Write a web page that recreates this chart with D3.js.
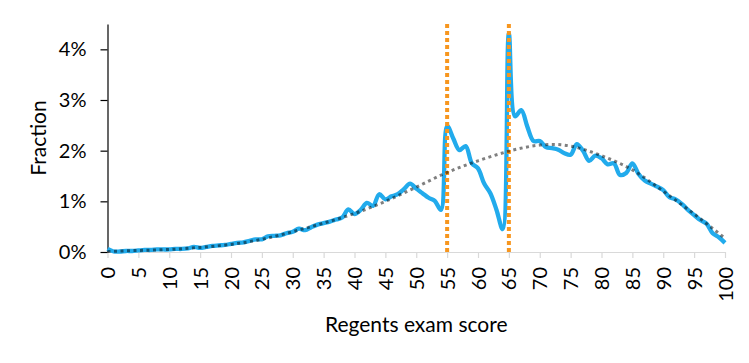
<!DOCTYPE html>
<html>
<head>
<meta charset="utf-8">
<script src="https://cdn.jsdelivr.net/npm/d3@7"></script>
<style>
  body { margin: 0; background: #fff; }
  text { font-family: Lato, "Open Sans", sans-serif; fill: #000; }
</style>
</head>
<body>
<div id="chart"></div>
<script>
// scores 0..100
var scores = d3.range(0, 101);

// observed share of students at each score (percent)
var observed = [0.06,0.01,0.01,0.02,0.02,0.03,0.04,0.04,0.05,0.05,
  0.05,0.06,0.06,0.07,0.10,0.08,0.10,0.12,0.13,0.14,
  0.16,0.18,0.19,0.22,0.25,0.25,0.31,0.32,0.33,0.37,
  0.40,0.46,0.43,0.49,0.54,0.57,0.60,0.64,0.68,0.84,
  0.75,0.83,0.97,0.91,1.14,1.04,1.10,1.14,1.24,1.35,
  1.25,1.16,1.07,1.01,0.83,2.49,2.24,2.01,2.09,1.75,
  1.65,1.35,1.16,0.83,0.45,4.31,2.68,2.80,2.47,2.19,
  2.19,2.07,2.05,2.02,1.95,1.92,2.13,2.00,1.80,1.90,
  1.85,1.73,1.75,1.52,1.56,1.75,1.54,1.41,1.35,1.29,
  1.22,1.08,1.04,0.95,0.83,0.73,0.63,0.56,0.37,0.29,
  0.18];

// smooth counterfactual fit, read every 5 points
var fitScores = [0,5,10,15,20,25,30,35,40,45,50,55,60,65,70,75,80,85,90,95,100];
var fitValues = [0.01,0.03,0.05,0.09,0.15,0.25,0.40,0.57,0.76,1.00,1.28,1.57,1.80,1.99,2.11,2.09,1.90,1.62,1.20,0.75,0.27];

// passing cutoffs
var cutoffs = [55, 65];

var yTicks = [0, 1, 2, 3, 4];
var xTicks = d3.range(0, 101, 5);

var w = 749, h = 363;
var padL = 107.5, padR = 725, padT = 24, padB = 252;

var svg = d3.select("#chart").append("svg")
  .attr("width", w)
  .attr("height", h)
  .style("background", "#FFFFFF");

var x = d3.scaleLinear().domain([0, 100]).range([padL, padR]);
var y = d3.scaleLinear().domain([0, 4.5]).range([padB, padT]);

// x axis
var xa = svg.append("g")
  .attr("transform", "translate(0," + padB + ")")
  .call(d3.axisBottom(x).tickValues(xTicks).tickSize(6).tickSizeOuter(0).tickFormat(d3.format("d")));
xa.select(".domain").attr("stroke", "#d9d9d9").attr("stroke-width", 1.2);
xa.selectAll(".tick line").attr("stroke", "#d9d9d9").attr("stroke-width", 1.2);
xa.selectAll(".tick text")
  .attr("font-size", 20)
  .attr("transform", "rotate(-90)")
  .attr("text-anchor", "end")
  .attr("x", -15)
  .attr("y", 0)
  .attr("dy", "0.35em");

// y axis
var ya = svg.append("g")
  .attr("transform", "translate(" + padL + ",0)")
  .call(d3.axisLeft(y).tickValues(yTicks).tickSize(7).tickSizeOuter(0).tickFormat(function(d){return d + "%"}));
ya.select(".domain").attr("stroke", "#000").attr("stroke-width", 1.2);
ya.selectAll(".tick line").attr("stroke", "#000").attr("stroke-width", 1.2);
ya.selectAll(".tick text").attr("font-size", 20).attr("x", -21);

// observed line
var line = d3.line()
  .x(function(d, i){return x(scores[i])})
  .y(function(d){return y(d)})
  .curve(d3.curveCatmullRom.alpha(0.5));

svg.append("path")
  .datum(observed)
  .attr("d", line)
  .attr("fill", "none")
  .attr("stroke", "#22abec")
  .attr("stroke-width", 4.3)
  .attr("stroke-linejoin", "round");

// cutoff lines
svg.selectAll(".cut")
  .data(cutoffs)
  .enter()
  .append("line")
  .attr("x1", function(d){return x(d)})
  .attr("x2", function(d){return x(d)})
  .attr("y1", y(4.5))
  .attr("y2", y(0))
  .attr("stroke", "#f7961e")
  .attr("stroke-width", 4)
  .attr("stroke-dasharray", "4,3");

// fitted dotted line
var fitLine = d3.line()
  .x(function(d, i){return x(fitScores[i])})
  .y(function(d){return y(d)})
  .curve(d3.curveNatural);

svg.append("path")
  .datum(fitValues)
  .attr("d", fitLine)
  .attr("fill", "none")
  .attr("stroke", "#000")
  .attr("stroke-opacity", 0.5)
  .attr("stroke-width", 3)
  .attr("stroke-dasharray", "3,3.5");

// titles
svg.append("text")
  .attr("x", (padL + padR) / 2)
  .attr("y", 332)
  .attr("text-anchor", "middle")
  .attr("font-size", 21)
  .text("Regents exam score");

svg.append("text")
  .attr("transform", "translate(46,138) rotate(-90)")
  .attr("text-anchor", "middle")
  .attr("font-size", 21)
  .text("Fraction");
</script>
</body>
</html>
